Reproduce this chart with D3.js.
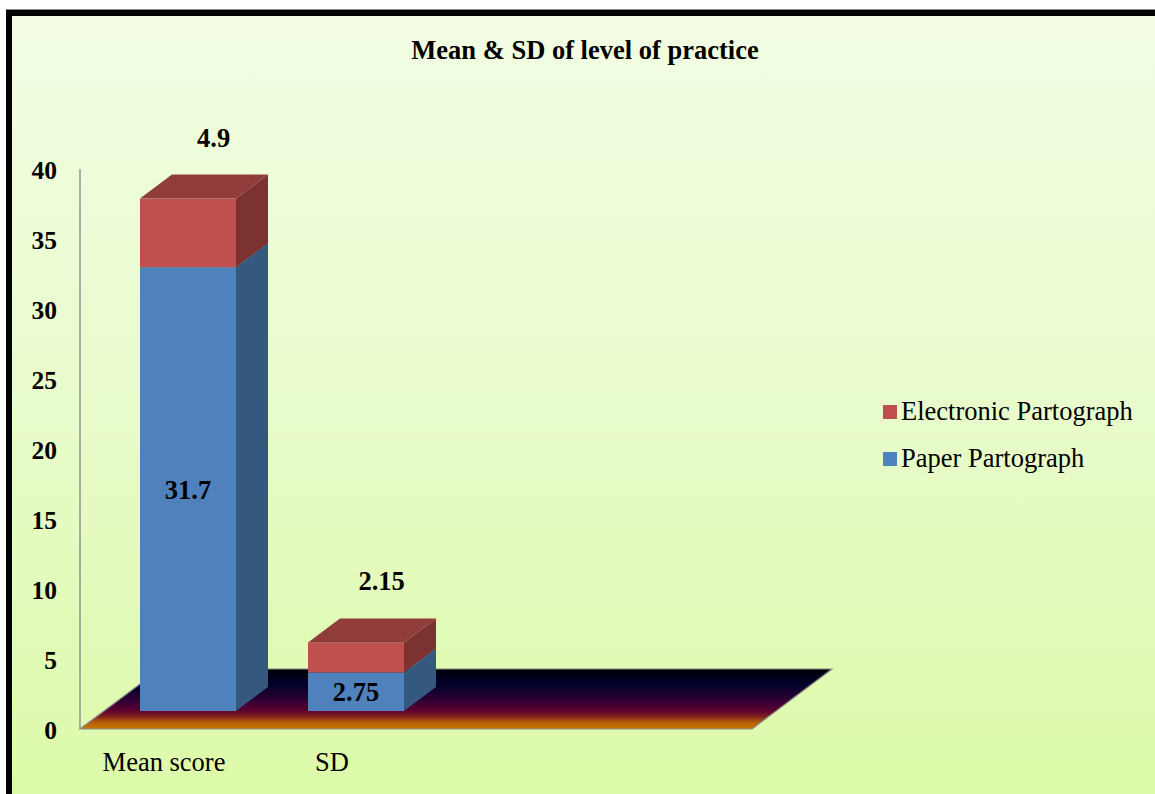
<!DOCTYPE html>
<html>
<head>
<meta charset="utf-8">
<script src="https://cdn.jsdelivr.net/npm/d3@7"></script>
<style>
  html, body { margin: 0; padding: 0; background: #ffffff; }
  svg { display: block; }
  text { font-family: "Liberation Serif", "Times New Roman", serif; }
</style>
</head>
<body>
<script>
// ---------- data ----------
const title = "Mean & SD of level of practice";
const categories = ["Mean score", "SD"];
const seriesNames = ["Paper Partograph", "Electronic Partograph"];
const paperValues = [31.7, 2.75];
const electronicValues = [4.9, 2.15];
const yTicks = [0, 5, 10, 15, 20, 25, 30, 35, 40];
const legendOrder = ["Electronic Partograph", "Paper Partograph"];

// ---------- layout ----------
const W = 1155, H = 794;
const slotCount = 4;              // category slots on the floor
const floorDepth = { dx: 80, dy: -60 };
const barDepthStart = 0.3, barDepthEnd = 0.7;
const colors = {
  "Paper Partograph": { front: "#4f81bd", side: "#35587f", top: "#3f6898" },
  "Electronic Partograph": { front: "#c0504d", side: "#7c3230", top: "#903c3a" }
};

const svg = d3.select("body").append("svg").attr("width", W).attr("height", H);
const defs = svg.append("defs");

const bg = defs.append("linearGradient").attr("id", "bg")
  .attr("x1", 0).attr("y1", 0).attr("x2", 0).attr("y2", 1);
bg.append("stop").attr("offset", 0).attr("stop-color", "#f2fde4");
bg.append("stop").attr("offset", 0.5).attr("stop-color", "#e8fbca");
bg.append("stop").attr("offset", 1).attr("stop-color", "#dcfaa6");

const x = d3.scaleBand().domain(d3.range(slotCount)).range([80, 752])
  .paddingInner(72 / 168).paddingOuter(36 / 168);
const y = d3.scaleLinear().domain([0, 40]).range([729, 169]);

const fl = defs.append("linearGradient").attr("id", "floor")
  .attr("gradientUnits", "userSpaceOnUse")
  .attr("x1", 0).attr("y1", y(0) + floorDepth.dy).attr("x2", 0).attr("y2", y(0));
[[0, "#000006"], [0.25, "#00002a"], [0.5, "#2a0032"], [0.68, "#580030"],
 [0.78, "#7a1a20"], [0.88, "#b05a08"], [1, "#c87a00"]].forEach(([o, c]) =>
  fl.append("stop").attr("offset", o).attr("stop-color", c));

// background + border
svg.append("rect").attr("x", 9).attr("y", 13).attr("width", W + 20).attr("height", H + 20)
  .attr("fill", "url(#bg)").attr("stroke", "#000").attr("stroke-width", 6);
svg.append("line").attr("x1", 6).attr("x2", W).attr("y1", 9.5).attr("y2", 9.5)
  .attr("stroke", "#888").attr("stroke-width", 1);

// title
svg.append("text").attr("x", 585).attr("y", 59).attr("text-anchor", "middle")
  .attr("font-size", 26.5).attr("font-weight", "bold").attr("fill", "#000").text(title);

// floor
const x0 = x.range()[0], x1 = x.range()[1], y0 = y(0);
svg.append("polygon")
  .attr("points", [[x0, y0], [x1, y0], [x1 + floorDepth.dx, y0 + floorDepth.dy], [x0 + floorDepth.dx, y0 + floorDepth.dy]].map(p => p.join(",")).join(" "))
  .attr("fill", "url(#floor)").attr("stroke", "#8a8a8a").attr("stroke-width", 1.2);

// y axis line
svg.append("line").attr("x1", x0).attr("x2", x0).attr("y1", y(40)).attr("y2", y(0))
  .attr("stroke", "#9a9a9a").attr("stroke-width", 1.6);

// y tick labels
svg.append("g").selectAll("text").data(yTicks).join("text")
  .attr("x", 57).attr("y", d => y(d) + 10).attr("text-anchor", "end")
  .attr("font-size", 25.5).attr("font-weight", "bold").attr("fill", "#000").text(d => d);

// category labels
svg.append("g").selectAll("text").data(categories).join("text")
  .attr("x", (d, i) => x(i) + x.bandwidth() / 2).attr("y", 771)
  .attr("text-anchor", "middle").attr("font-size", 26.5).attr("fill", "#000").text(d => d);

// stacked data
const table = categories.map((c, i) => ({ idx: i, "Paper Partograph": paperValues[i], "Electronic Partograph": electronicValues[i] }));
const stacked = d3.stack().keys(seriesNames)(table);

const bw = x.bandwidth();
const ddx0 = floorDepth.dx * barDepthStart, ddy0 = floorDepth.dy * barDepthStart;
const bdx = floorDepth.dx * (barDepthEnd - barDepthStart), bdy = floorDepth.dy * (barDepthEnd - barDepthStart);
const pts = a => a.map(p => p.join(",")).join(" ");

const barsG = svg.append("g");
stacked.forEach(series => {
  const col = colors[series.key];
  series.forEach(d => {
    const i = d.data.idx;
    const fx = x(i) + ddx0;
    const yt = y(d[1]) + ddy0, yb = y(d[0]) + ddy0;
    barsG.append("polygon").attr("fill", col.side)
      .attr("points", pts([[fx + bw, yt], [fx + bw + bdx, yt + bdy], [fx + bw + bdx, yb + bdy], [fx + bw, yb]]));
    barsG.append("rect").attr("x", fx).attr("y", yt).attr("width", bw).attr("height", yb - yt)
      .attr("fill", col.front);
    barsG.append("polygon").attr("fill", col.top)
      .attr("points", pts([[fx, yt], [fx + bdx, yt + bdy], [fx + bw + bdx, yt + bdy], [fx + bw, yt]]));
  });
});

// value labels
const lab = svg.append("g").attr("font-size", 26.5).attr("font-weight", "bold").attr("fill", "#000");
stacked[0].forEach(d => {
  const i = d.data.idx;
  const fx = x(i) + ddx0;
  lab.append("text").attr("x", fx + bw / 2).attr("y", (y(d[0]) + y(d[1])) / 2 + ddy0 + 9.5)
    .attr("text-anchor", "middle").text(d[1] - d[0]);
});
stacked[1].forEach(d => {
  const i = d.data.idx;
  const fx = x(i) + ddx0;
  lab.append("text").attr("x", fx + bw / 2 + bdx * 0.8).attr("y", y(d[1]) + ddy0 + bdy - 28)
    .attr("text-anchor", "middle").text(d.data["Electronic Partograph"]);
});

// legend
const lg = svg.append("g").selectAll("g").data(legendOrder).join("g")
  .attr("transform", (d, i) => `translate(883, ${405 + i * 47})`);
lg.append("rect").attr("width", 14).attr("height", 14).attr("fill", d => colors[d].front);
lg.append("text").attr("x", 18).attr("y", 15).attr("font-size", 26.5).attr("fill", "#000").text(d => d);
</script>
</body>
</html>
